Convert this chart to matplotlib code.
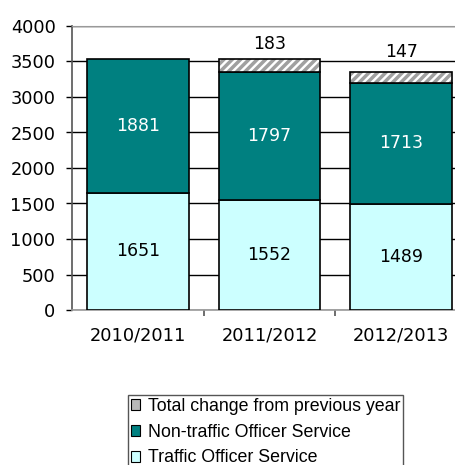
from matplotlib import pyplot as plt
import numpy as np

years = ['2010/2011', '2011/2012', '2012/2013']
traffic = [1651, 1552, 1489]
non_traffic = [1881, 1797, 1713]
change = [0, 183, 147]

plt.rcParams['hatch.linewidth'] = 2.5

fig = plt.figure(figsize=(4.55, 4.65), dpi=100)
ax = fig.add_axes([72/455, 155/465, 395/455, 284/465])

x = np.arange(len(years))
w = 0.77
b1 = ax.bar(x, traffic, w, color='#ccffff', edgecolor='black', linewidth=1.2,
            label='Traffic Officer Service', zorder=3)
b2 = ax.bar(x, non_traffic, w, bottom=traffic, color='#008080', edgecolor='black',
            linewidth=1.2, label='Non-traffic Officer Service', zorder=3)
bottoms = np.array(traffic) + np.array(non_traffic)
# hatch in grey, then a black outline on top
b3 = ax.bar(x[1:], change[1:], w, bottom=bottoms[1:], color='white', edgecolor='#a0a0a0',
            hatch='////', linewidth=0, zorder=3)
ax.bar(x[1:], change[1:], w, bottom=bottoms[1:], fill=False, edgecolor='black',
       linewidth=1.2, zorder=3)

for i in range(len(years)):
    ax.text(x[i], traffic[i] / 2, str(traffic[i]), ha='center', va='center',
            fontsize=12.5, color='black', zorder=4)
    ax.text(x[i], traffic[i] + non_traffic[i] / 2, str(non_traffic[i]), ha='center',
            va='center', fontsize=12.5, color='white', zorder=4)
offs = [0, 4.5, 8]
for i in range(1, len(years)):
    ax.annotate(str(change[i]), (x[i], bottoms[i] + change[i]), xytext=(0, offs[i]),
                textcoords='offset points', ha='center', va='bottom', fontsize=12.5)

ax.set_ylim(0, 4000)
ax.set_xlim(-0.5, 2.5)
ax.set_yticks(np.arange(0, 4001, 500))
ax.yaxis.grid(True, color='black', linewidth=1.0, zorder=0)
ax.set_axisbelow(True)
ax.set_xticks(x)
ax.set_xticklabels(years, fontsize=12.8)
ax.set_xticks([0.5, 1.5, 2.5], minor=True)
ax.tick_params(axis='x', which='major', length=0, pad=12)
ax.tick_params(axis='x', which='minor', length=4.3, width=1.2, color='#555555')
ax.tick_params(axis='y', length=4.3, width=1.0, labelsize=12.8, pad=7.5)
ax.spines['top'].set_color('#999999')
ax.spines['right'].set_visible(False)
ax.spines['left'].set_color('#555555')
ax.spines['left'].set_linewidth(1.2)
ax.spines['bottom'].set_color('#999999')
ax.spines['bottom'].set_linewidth(1.2)

leg = fig.legend([b3, b2, b1],
                 ['Total change from previous year', 'Non-traffic Officer Service',
                  'Traffic Officer Service'],
                 loc='upper left', bbox_to_anchor=(128/455, 70/465),
                 prop={'family': 'Liberation Sans', 'size': 12.8},
                 fancybox=False, edgecolor='#555555', framealpha=1,
                 handlelength=0.55, handleheight=0.55, handletextpad=0.4,
                 labelspacing=0.5, borderpad=0.15, borderaxespad=0)
leg.get_frame().set_linewidth(1.0)
hs = leg.legend_handles
hs[0].set_hatch(None)
hs[0].set_facecolor('#b8b8b8')
for h in hs:
    h.set_edgecolor('black')
    h.set_linewidth(0.8)

plt.savefig('out.png', dpi=100)
